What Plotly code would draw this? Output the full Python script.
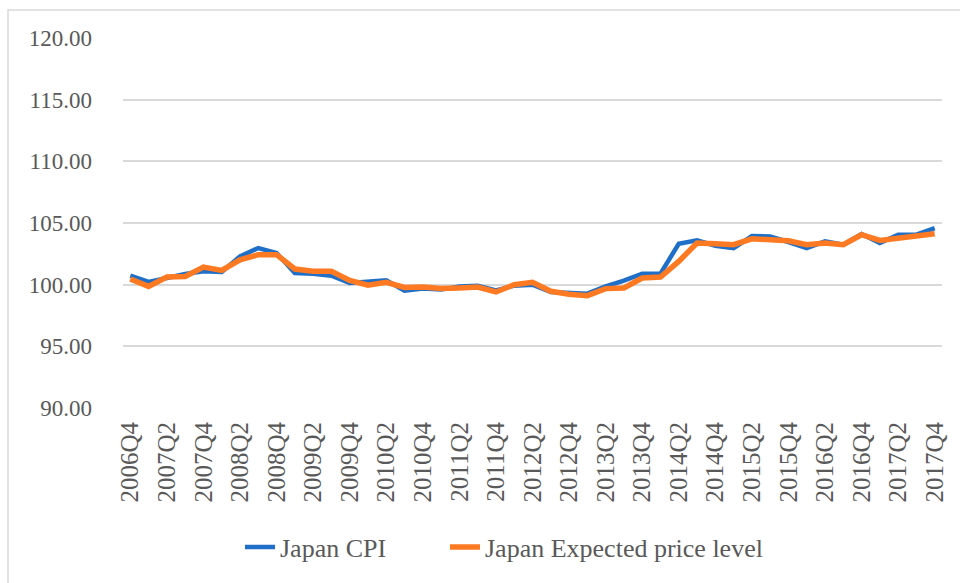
import plotly.graph_objects as go

quarters = []
for y in range(2006, 2018):
    for q in range(1, 5):
        if (y == 2006 and q < 4):
            continue
        quarters.append(f"{y}Q{q}")

japan_cpi = [100.73, 100.22, 100.54, 100.87, 101.08, 101.03, 102.30, 102.97, 102.56, 100.95,
             100.89, 100.73, 100.13, 100.27, 100.35, 99.51, 99.68, 99.60, 99.86, 99.92,
             99.54, 99.92, 100.00, 99.40, 99.38, 99.27, 99.86, 100.32, 100.89, 100.89,
             103.32, 103.59, 103.16, 102.97, 103.94, 103.91, 103.46, 102.97, 103.51, 103.24,
             104.10, 103.38, 104.05, 104.05, 104.59]
japan_expected = [100.46, 99.86, 100.62, 100.67, 101.43, 101.16, 102.02, 102.43, 102.43, 101.27,
                  101.08, 101.08, 100.35, 99.95, 100.19, 99.78, 99.81, 99.68, 99.73, 99.81,
                  99.41, 100.00, 100.19, 99.46, 99.22, 99.11, 99.68, 99.73, 100.54, 100.62,
                  101.89, 103.38, 103.32, 103.24, 103.72, 103.64, 103.56, 103.24, 103.38, 103.24,
                  104.05, 103.59, 103.78, 103.86, 104.13]

tick_labels = quarters[::2]
y_ticks = [90, 95, 100, 105, 110, 115, 120]

font_family = "Liberation Serif, DejaVu Serif, serif"
text_color = "#595959"

fig = go.Figure()
fig.add_trace(go.Scatter(x=quarters, y=japan_cpi, mode="lines", name="Japan CPI",
                         line=dict(color="#1f6fc8", width=4.5), legend="legend"))
fig.add_trace(go.Scatter(x=quarters, y=japan_expected, mode="lines", name="Japan Expected price level",
                         line=dict(color="#fd7a23", width=5.5), legend="legend2"))

L, R, T, B = 123, 18, 38, 175
W, H = 960, 583
pw, ph = W - L - R, H - T - B
leg_y = -(547 - (H - B)) / ph

fig.update_layout(
    width=W, height=H,
    margin=dict(l=L, r=R, t=T, b=B, autoexpand=False),
    paper_bgcolor="white", plot_bgcolor="white",
    font=dict(family=font_family, color=text_color, size=22),
    showlegend=True,
    legend=dict(orientation="h", x=(240 - L) / pw, xanchor="left", y=leg_y, yanchor="middle",
                font=dict(size=26, color=text_color), bgcolor="rgba(0,0,0,0)"),
    legend2=dict(orientation="h", x=(445 - L) / pw, xanchor="left", y=leg_y, yanchor="middle",
                 font=dict(size=26, color=text_color), bgcolor="rgba(0,0,0,0)"),
    xaxis=dict(type="category", range=[-0.4, len(quarters) - 0.6], automargin=False,
               tickmode="array", tickvals=tick_labels, ticktext=tick_labels,
               tickangle=-90, showgrid=False, showline=False, ticks="",
               ticklabelstandoff=8,
               tickfont=dict(size=25, color=text_color)),
    yaxis=dict(range=[90, 120], tickvals=y_ticks, ticktext=[f"{v:.2f}" for v in y_ticks],
               automargin=False,
               showgrid=True, gridcolor="#d9d9d9", gridwidth=1.5, zeroline=False,
               showline=False, ticks="", ticklabelstandoff=30,
               tickfont=dict(size=23, color=text_color)),
    shapes=[dict(type="rect", xref="paper", yref="paper",
                 x0=(8 - L) / pw, x1=(W + 5 - L) / pw,
                 y0=(H - B - (H + 5)) / ph, y1=(H - B - 10) / ph,
                 line=dict(color="#d9d9d9", width=1.5), fillcolor="rgba(0,0,0,0)", layer="below")],
)

fig.write_html("out.html", config={"displayModeBar": False},
               post_script="document.body.style.margin='0px';")
